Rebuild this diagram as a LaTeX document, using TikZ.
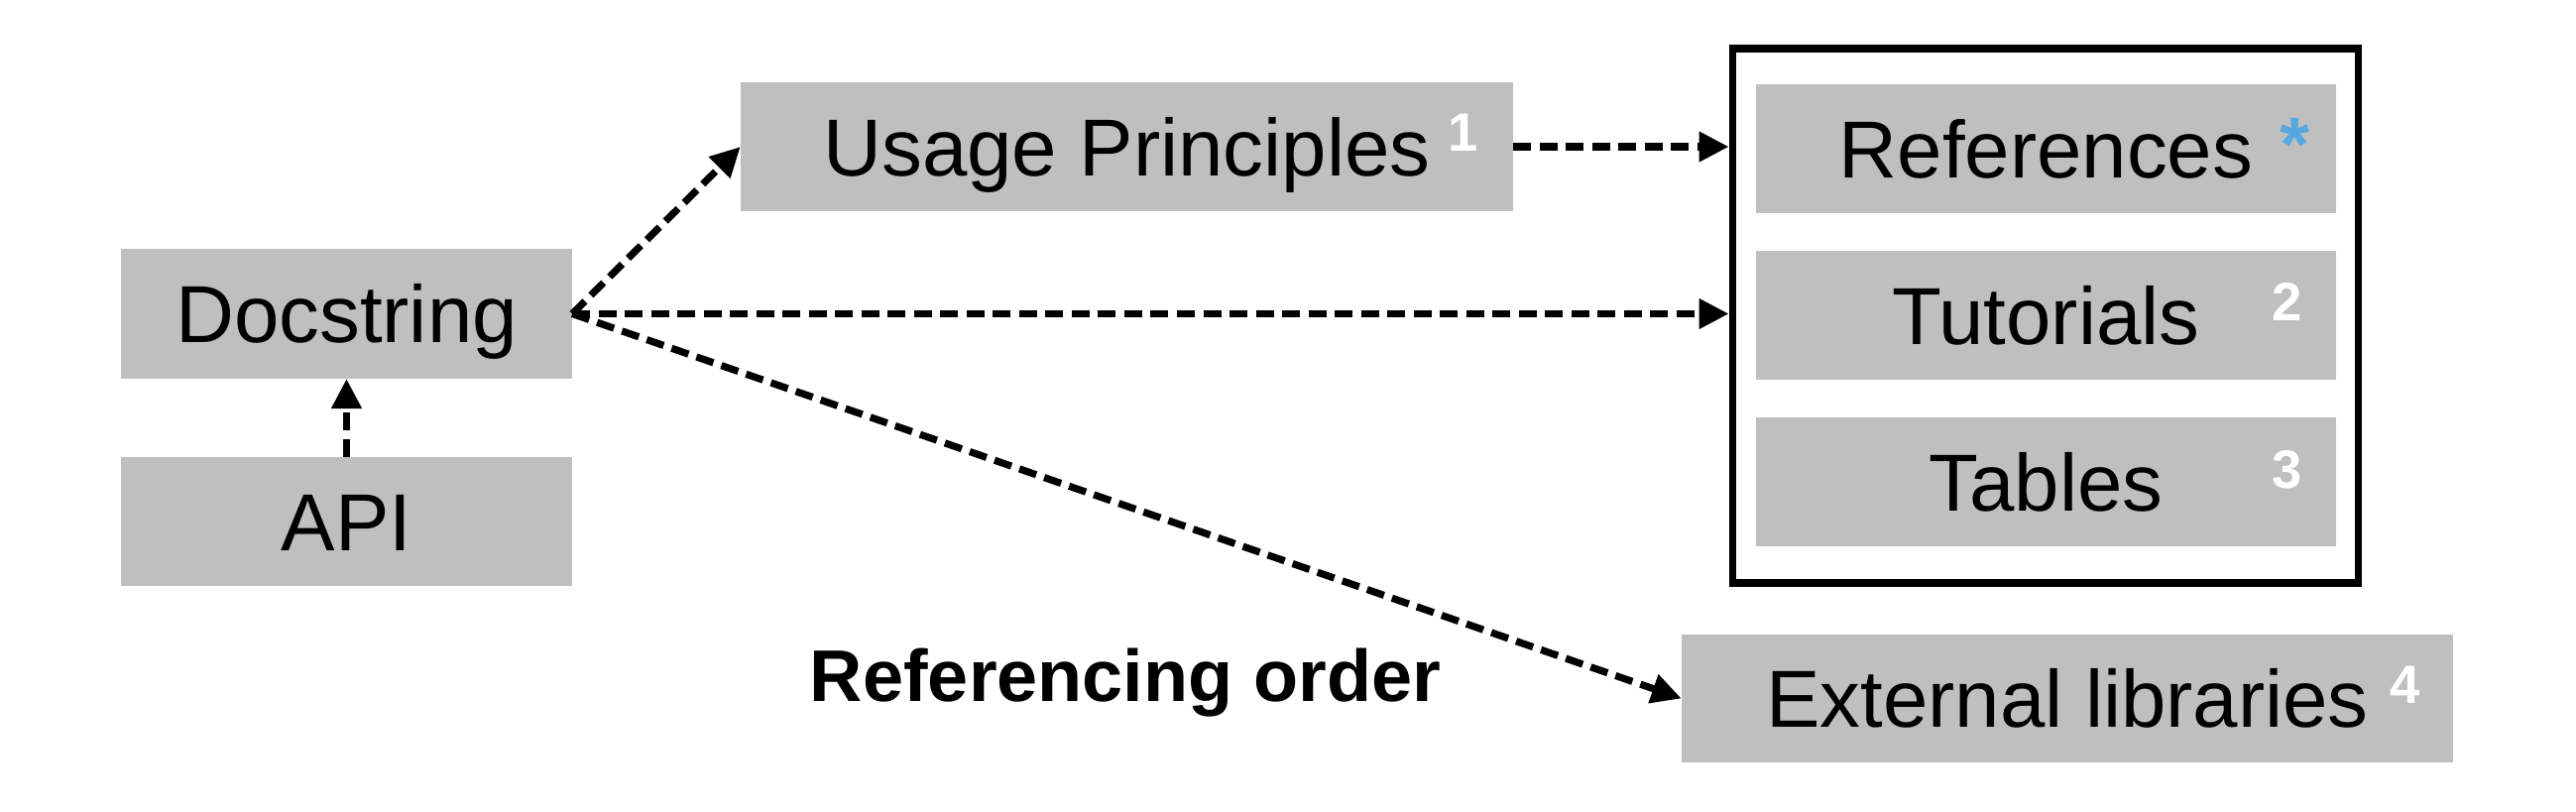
\documentclass[tikz,border=0pt]{standalone}
\usepackage{fontspec}
\setmainfont{Liberation Sans}
\usetikzlibrary{arrows.meta}
\definecolor{boxgray}{HTML}{BFBFBF}
\definecolor{starblue}{RGB}{88,168,224}
\tikzset{
  graybox/.style={fill=boxgray, draw=none, inner sep=0pt, outer sep=0pt,
    text height=0.584cm, text depth=0pt,
    font=\fontsize{23.2pt}{28pt}\selectfont},
  supnum/.style={anchor=base, inner sep=0pt, text=white,
    font=\fontsize{15.5pt}{18pt}\selectfont\bfseries},
  refarrow/.style={draw=black, line width=0.072cm, dash pattern=on 0.18cm off 0.085cm,
    -{Triangle[length=0.3cm, width=0.29cm]}},
}
\begin{document}
\begin{tikzpicture}[x=0.01cm, y=-0.01cm]
\useasboundingbox (0,0) rectangle (2598,818);
% left column
\node[graybox, minimum width=4.55cm, minimum height=1.31cm] (doc) at (349.5,316.5) {Docstring};
\node[graybox, minimum width=4.55cm, minimum height=1.30cm] (api) at (349.5,526) {API};
% usage principles
\node[graybox, minimum width=7.79cm, minimum height=1.30cm] (usage) at (1136.5,148) {Usage Principles};
\node[supnum] (s1) at (1476,152.5) {1};
% frame
\node[draw=black, line width=0.075cm, fill=none, inner sep=0pt,
      minimum width=6.31cm, minimum height=5.39cm] (frame) at (2063,318.5) {};
\node[graybox, minimum width=5.85cm, minimum height=1.30cm] (refs) at (2063.5,150) {References};
\node[graybox, minimum width=5.85cm, minimum height=1.30cm] (tut) at (2063.5,318) {Tutorials};
\node[graybox, minimum width=5.85cm, minimum height=1.30cm] (tab) at (2063.5,486) {Tables};
\node[anchor=base, inner sep=0pt, text=starblue,
      font=\fontsize{22pt}{24pt}\selectfont\bfseries] (star) at (2315,172) {*};
\node[supnum] (s2) at (2307,323) {2};
\node[supnum] (s3) at (2307,492) {3};
% external libraries
\node[graybox, minimum width=7.78cm, minimum height=1.29cm] (ext) at (2085,704.5) {External libraries};
\node[supnum] (s4) at (2426,709.5) {4};
% label
\node[anchor=base, inner sep=0pt, font=\fontsize{21pt}{25pt}\selectfont\bfseries] (lbl) at (1135,707) {Referencing order};
% connectors
\draw[refarrow] (api.north) -- (doc.south);
\draw[refarrow] (doc.east) -- (usage.west);
\draw[refarrow] (usage.east) -- (usage.east -| frame.west);
\draw[refarrow] (doc.east) -- (doc.east -| frame.west);
\draw[refarrow] (doc.east) -- (ext.west);
\end{tikzpicture}
\end{document}
